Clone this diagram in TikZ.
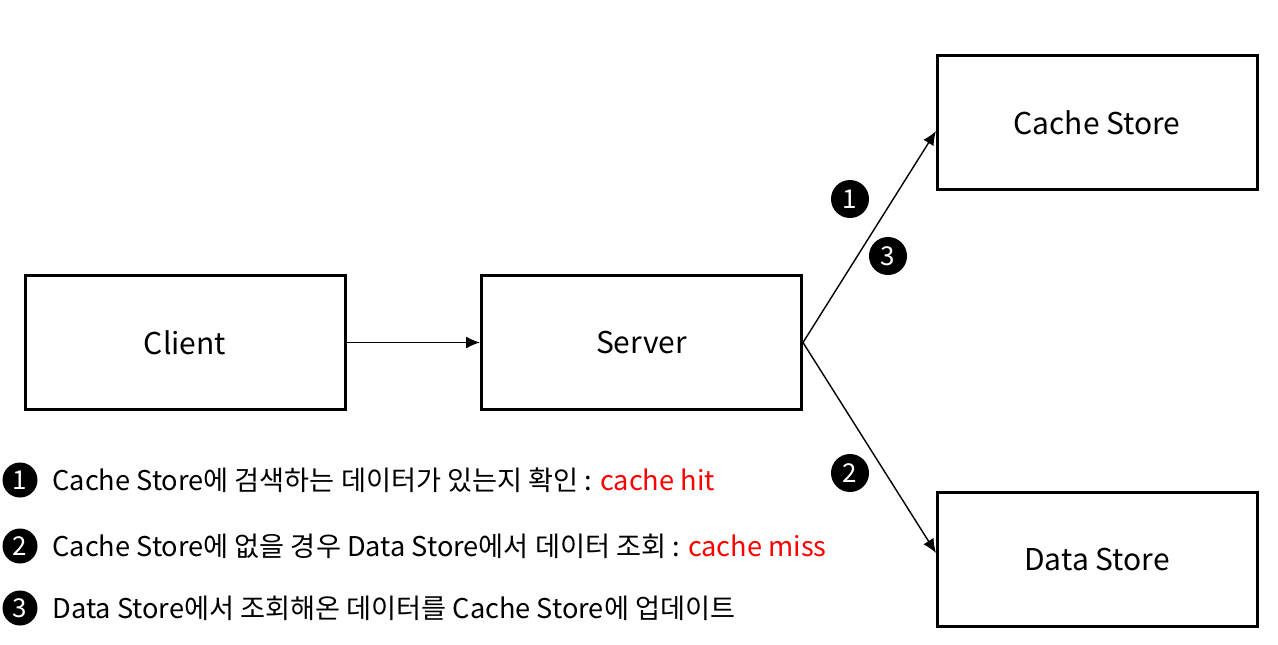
\documentclass[tikz,border=0pt]{standalone}
\usepackage{fontspec}
\setmainfont{Noto Sans CJK KR}
\usetikzlibrary{arrows.meta}
\begin{document}
\begin{tikzpicture}[x=0.5pt,y=-0.5pt,
  box/.style={draw,line width=1.5pt,minimum width=160pt,minimum height=67pt,inner sep=0pt,font=\fontsize{15}{18}\selectfont},
  conn/.style={line width=0.7pt,-{Latex[length=7pt,width=6pt]}},
  num/.style={circle,fill=black,text=white,inner sep=0pt,minimum size=19pt,font=\fontsize{13}{14}\selectfont},
  lnum/.style={num,minimum size=17.5pt},
  legend/.style={anchor=west,inner sep=0pt,font=\fontsize{13.6}{16}\selectfont}]
\useasboundingbox (0,0) rectangle (1278,644);
\node[box] (client) at (185,342.5) {Client};
\node[box] (server) at (641.5,342.5) {Server};
\node[box] (cache) at (1097,122.5) {Cache Store};
\node[box] (data) at (1097,559.5) {Data Store};
\coordinate (ct) at (936,131);
\coordinate (dt) at (936,553);
\draw[conn] (client.east) -- (server.west);
\draw[conn] (server.east) -- (ct);
\draw[conn] (server.east) -- (dt);
\node[num] (n1) at (850,199) {1};
\node[num] (n3) at (888,256) {3};
\node[num] (n2) at (850,473) {2};
\node[lnum] (l1) at (20,480) {1};
\node[lnum] (l2) at (20,546) {2};
\node[lnum] (l3) at (20,608) {3};
\node[legend] (t1) at (52,480) {Cache Store에 검색하는 데이터가 있는지 확인 : \textcolor{red}{cache hit}};
\node[legend] (t2) at (52,546) {Cache Store에 없을 경우 Data Store에서 데이터 조회 : \textcolor{red}{cache miss}};
\node[legend] (t3) at (52,608) {Data Store에서 조회해온 데이터를 Cache Store에 업데이트};
\end{tikzpicture}
\end{document}
